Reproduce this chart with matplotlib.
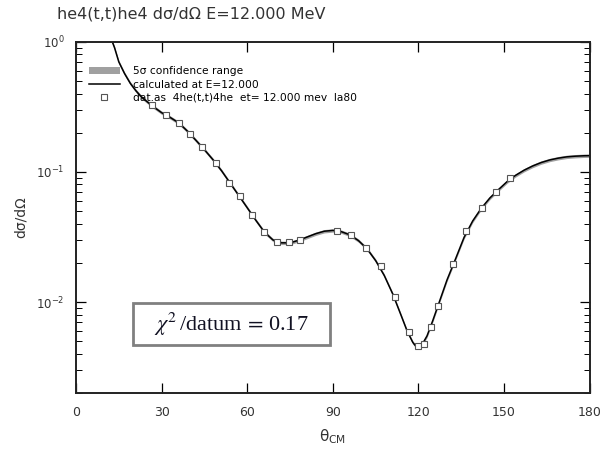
import matplotlib
matplotlib.use("Agg")
import matplotlib.pyplot as plt
from matplotlib.patches import Rectangle
import numpy as np

# Measured differential cross section (theta_CM in degrees, dsigma/dOmega)
data_theta = [26.5, 31.6, 36.1, 39.9, 44.2, 49.1, 53.6, 57.4, 61.7, 66.0,
              70.3, 74.5, 78.4, 91.4, 96.5, 101.6, 106.7, 111.7, 116.7, 119.9,
              122.0, 124.4, 126.9, 132.0, 136.8, 142.4, 147.1, 152.0]
data_xs = [0.326, 0.274, 0.239, 0.197, 0.154, 0.118, 0.082, 0.0656, 0.0469, 0.0345,
           0.029, 0.0287, 0.0301, 0.0354, 0.0326, 0.0261, 0.0188, 0.01087, 0.00588, 0.00456,
           0.00476, 0.00643, 0.00927, 0.0195, 0.0352, 0.0532, 0.0702, 0.089]

# Calculated cross section at E = 12.000 MeV
calc_theta = [12.0, 13.5, 15.0, 17.0, 19.0, 21.0, 23.0, 25.0, 27.0, 30.0,
              33.0, 36.0, 39.0, 42.0, 45.0, 48.0, 51.0, 54.0, 57.0, 60.0,
              63.0, 66.0, 69.0, 72.0, 75.0, 78.0, 81.0, 84.0, 87.0, 90.0,
              93.0, 96.0, 99.0, 102.0, 105.0, 108.0, 111.0, 114.0, 116.0, 118.0,
              119.5, 121.0, 123.0, 125.0, 127.0, 130.0, 133.0, 136.0, 139.0, 142.0,
              145.0, 148.0, 151.0, 154.0, 157.0, 160.0, 163.0, 166.0, 169.0, 172.0,
              175.0, 178.0, 180.0]
calc_xs = [1.10, 0.90, 0.70, 0.57, 0.48, 0.42, 0.375, 0.345, 0.318, 0.285,
           0.262, 0.238, 0.206, 0.175, 0.148, 0.124, 0.102, 0.082, 0.066, 0.053,
           0.0425, 0.0345, 0.030, 0.0285, 0.0285, 0.0298, 0.0316, 0.0335, 0.0350, 0.0355,
           0.0347, 0.0328, 0.0296, 0.0256, 0.0208, 0.0160, 0.0115, 0.0078, 0.0060, 0.0049,
           0.00445, 0.0046, 0.0055, 0.0072, 0.0096, 0.0148, 0.0215, 0.0315, 0.0420, 0.0525,
           0.0630, 0.0730, 0.0840, 0.0940, 0.1030, 0.1110, 0.1180, 0.1235, 0.1275, 0.1305,
           0.1320, 0.1330, 0.1332]

# relative half-width of the 5 sigma band
band_rel = 0.03

x_ticks = [0, 30, 60, 90, 120, 150, 180]

plt.rcParams['font.family'] = ['DejaVu Sans']
plt.rcParams['mathtext.fontset'] = 'stix'

fig = plt.figure(figsize=(6.03, 4.51), dpi=100)
ax = fig.add_axes([0.126, 0.1286, 0.852, 0.7789])

ct = np.array(calc_theta)
cx = np.array(calc_xs)
ax.fill_between(ct, cx * (1 - band_rel), cx * (1 + band_rel),
                color='#a0a0a0', lw=0, label='5σ confidence range')
ax.plot(ct, cx, color='black', lw=1.1, label='calculated at E=12.000')
ax.plot(data_theta, data_xs, ls='none', marker='s', ms=3.8, mfc='white',
        mec='#555555', mew=0.8,
        label='dat.as  4he(t,t)4he  et= 12.000 mev  la80')

ax.set_yscale('log')
ax.set_xlim(0, 180)
ax.set_ylim(0.002, 1.0)
ax.set_xticks(x_ticks)
ax.set_xticklabels([str(t) for t in x_ticks])

ax.tick_params(which='both', direction='in', top=True, right=True,
               labelsize=9, colors='black', labelcolor='#333333')
ax.tick_params(axis='x', pad=9)
ax.tick_params(axis='y', pad=8, labelsize=8.5)
ax.tick_params(which='major', length=7, width=0.9)
ax.tick_params(which='minor', length=4, width=0.7)
for s in ax.spines.values():
    s.set_linewidth(1.4)
    s.set_color('#222222')

ax.set_xlabel(r'$\mathregular{\theta_{CM}}$', fontsize=11, color='#333333',
              labelpad=6)
ax.set_ylabel('dσ/dΩ', fontsize=10, color='#333333', labelpad=6)

fig.text(0.094, 0.969, 'he4(t,t)he4 dσ/dΩ E=12.000 MeV', fontsize=11.5,
         color='#333333', ha='left', va='center')

leg = ax.legend(loc='upper left', bbox_to_anchor=(0.0253, 0.93), fontsize=7.7,
                frameon=False, handlelength=2.9, handletextpad=1.2,
                labelspacing=0.3, borderaxespad=0.0, borderpad=0.0)

# chi-square summary box
ax.add_patch(Rectangle((0.111, 0.137), 0.383, 0.12, transform=ax.transAxes,
                       fc='white', ec='#808080', lw=2.0, zorder=5))
ax.text(0.3025, 0.196, r'$\chi^2\,$/datum$\,=\,$0.17', transform=ax.transAxes,
        fontsize=16, family='Liberation Serif', color='#111122',
        ha='center', va='center', zorder=6)

fig.savefig('out.png', dpi=100)
